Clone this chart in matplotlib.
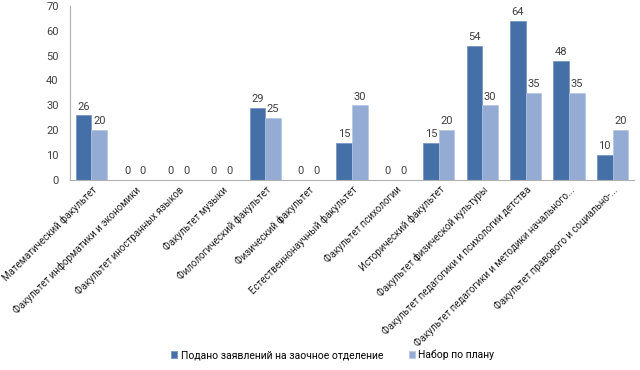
import matplotlib
matplotlib.use("Agg")
import matplotlib.pyplot as plt
import numpy as np

# данные
categories = [
    "Математический факультет",
    "Факультет информатики и экономики",
    "Факультет иностранных языков",
    "Факультет музыки",
    "Филологический факультет",
    "Физический факультет",
    "Естественнонаучный факультет",
    "Факультет психологии",
    "Исторический факультет",
    "Факультет физической культуры",
    "Факультет педагогики и психологии детства",
    "Факультет педагогики и методики начального...",
    "Факультет правового и социально-...",
]
podano = [26, 0, 0, 0, 29, 0, 15, 0, 15, 54, 64, 48, 10]
plan = [20, 0, 0, 0, 25, 0, 30, 0, 20, 30, 35, 35, 20]
series_names = ["Подано заявлений на заочное отделение", "Набор по плану"]

plt.rcParams['font.family'] = ['Roboto', 'DejaVu Sans']
c_dark = '#4470a7'
c_light = '#94abd4'
txt = '#404040'

fig = plt.figure(figsize=(6.4, 3.7), dpi=100)
ax = fig.add_axes([0.109, 0.514, 0.882, 0.47])

x = np.arange(len(categories))
w = 0.36
b1 = ax.bar(x - w / 2, podano, w, color=c_dark, edgecolor='#6f8fbf', linewidth=0.5, label=series_names[0])
b2 = ax.bar(x + w / 2, plan, w, color=c_light, edgecolor='#b4c6e2', linewidth=0.5, label=series_names[1])

for bars in (b1, b2):
    for r in bars:
        h = r.get_height()
        ax.text(r.get_x() + r.get_width() / 2, h + 1.5, str(int(h)),
                ha='center', va='bottom', fontsize=8, color=txt)

ax.set_xlim(-0.5, len(categories) - 0.5)
ax.set_ylim(0, 70)
ax.set_yticks(range(0, 71, 10))
ax.tick_params(axis='y', length=0, labelsize=8, labelcolor=txt, pad=8)
ax.tick_params(axis='x', length=0, pad=3)
ax.set_xticks(x)
ax.set_xticklabels(categories, rotation=45, ha='right', va='top',
                   rotation_mode='anchor', fontsize=7, color='#202020')
for s in ['top', 'right']:
    ax.spines[s].set_visible(False)
ax.spines['left'].set_color('#b0b0b0')
ax.spines['bottom'].set_color('#b0b0b0')

fig.legend(handles=[b1, b2], labels=series_names, loc='center',
           bbox_to_anchor=(0.52, 0.04), ncol=2, frameon=False,
           fontsize=7.5, handlelength=0.6, handleheight=0.6,
           handletextpad=0.3, columnspacing=2.5)

fig.savefig("out.png", dpi=100)
